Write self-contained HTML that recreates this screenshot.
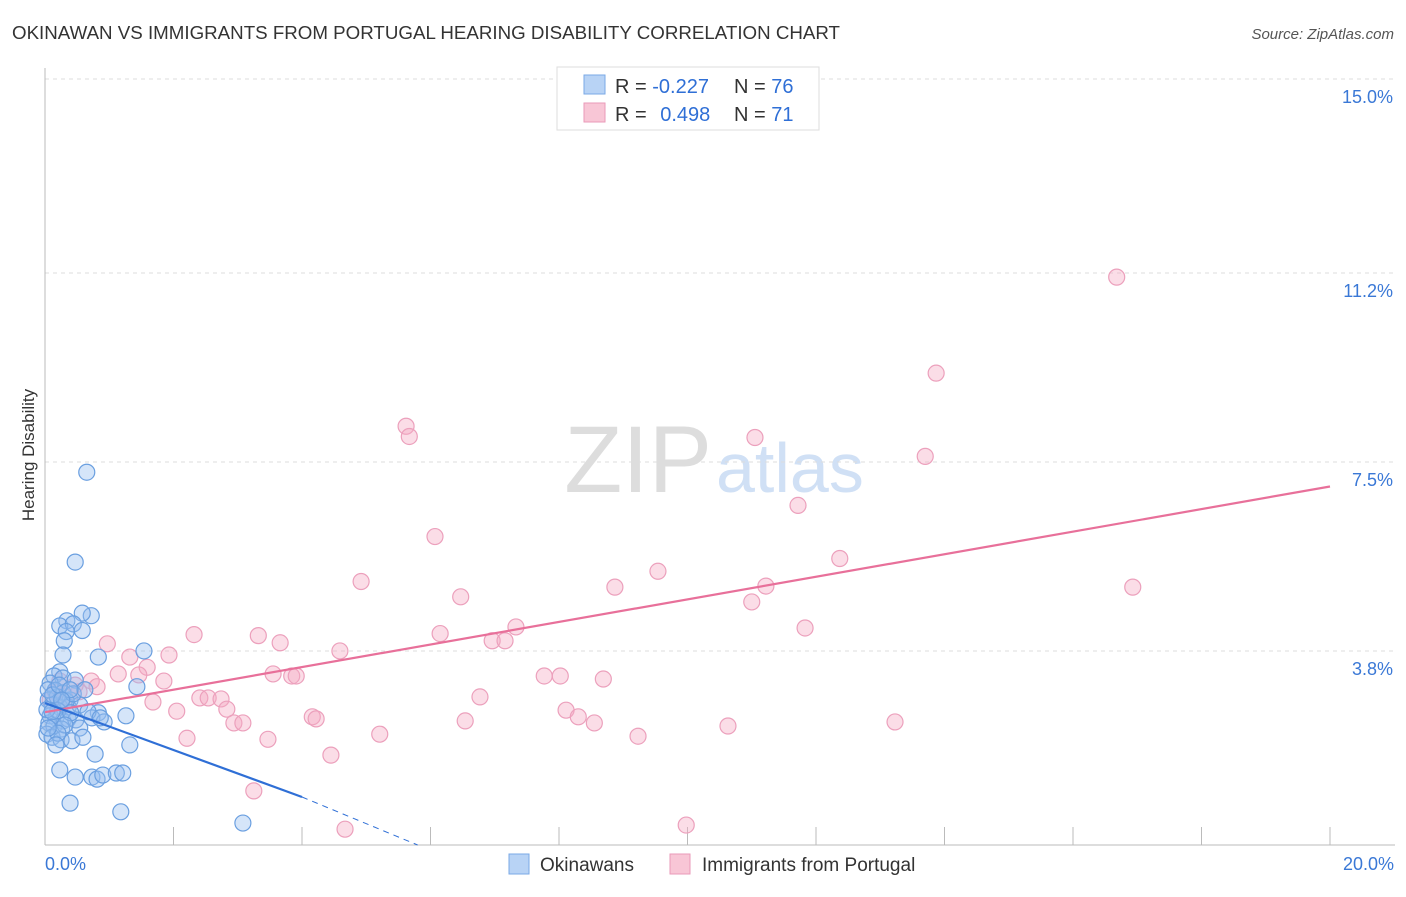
<!DOCTYPE html>
<html><head><meta charset="utf-8"><style>
body{margin:0;background:#fff;font-family:"Liberation Sans",sans-serif;}
svg text{font-family:"Liberation Sans",sans-serif;}
</style></head><body>
<svg width="1406" height="892" id="chart">
<text x="12" y="39" font-size="18" fill="#333" textLength="828" lengthAdjust="spacingAndGlyphs">OKINAWAN VS IMMIGRANTS FROM PORTUGAL HEARING DISABILITY CORRELATION CHART</text>
<text x="1394" y="39" font-size="15" fill="#555" text-anchor="end" font-style="italic">Source: ZipAtlas.com</text>
<text x="34" y="455" font-size="17" fill="#333" text-anchor="middle" transform="rotate(-90 34 455)">Hearing Disability</text>
<text x="712" y="492" font-size="95" fill="#ddd" text-anchor="end" font-family="Liberation Serif">ZIP</text>
<text x="716" y="492" font-size="70" fill="#d0e0f5">atlas</text>
<g id="grid"></g><g id="axes"></g><g id="pts"></g><g id="lines"></g>
<g>
<rect x="557" y="67" width="262" height="63" fill="#fff" stroke="#ddd"/>
<rect x="584" y="75" width="21" height="19" fill="#b8d3f5" stroke="#7aa8e6"/>
<rect x="584" y="103" width="21" height="19" fill="#f8c6d6" stroke="#ea9ab8"/>
<text x="615" y="93" font-size="20" fill="#333">R = <tspan fill="#2f6fd6">-0.227</tspan></text>
<text x="734" y="93" font-size="20" fill="#333">N = <tspan fill="#2f6fd6">76</tspan></text>
<text x="615" y="121" font-size="20" fill="#333">R = <tspan fill="#2f6fd6" dx="8">0.498</tspan></text>
<text x="734" y="121" font-size="20" fill="#333">N = <tspan fill="#2f6fd6">71</tspan></text>
</g>
<g>
<rect x="509" y="854" width="20" height="20" fill="#b8d3f5" stroke="#7aa8e6"/>
<text x="540" y="871" font-size="19" fill="#333">Okinawans</text>
<rect x="670" y="854" width="20" height="20" fill="#f8c6d6" stroke="#ea9ab8"/>
<text x="702" y="871" font-size="19" fill="#333">Immigrants from Portugal</text>
</g>
</svg>
<script>
const yTicks=[3.8,7.5,11.2,15.0];
const yTickLabels=["3.8%","7.5%","11.2%","15.0%"];
const xTickLabels=["0.0%","20.0%"];
const blueX=[0.65,0.47,0.72,0.58,0.34,0.23,0.44,0.33,0.58,0.3,0.28,0.83,1.54,0.23,0.14,0.28,0.47,1.43,0.08,0.16,0.28,0.39,0.05,0.11,0.23,0.36,0.54,0.83,1.26,0.73,0.92,0.08,0.17,0.28,0.36,0.48,0.06,0.14,0.54,0.26,0.03,0.11,0.25,0.42,0.59,1.32,0.78,0.23,0.47,0.73,0.81,0.9,1.11,1.21,0.39,1.18,3.08,0.19,0.33,0.44,0.2,0.4,0.62,0.05,0.12,0.22,0.03,0.11,0.67,0.31,0.86,0.2,0.05,0.39,0.26,0.17];
const blueY=[7.3,5.54,4.49,4.54,4.39,4.29,4.33,4.18,4.2,4.0,3.72,3.68,3.8,3.39,3.31,3.27,3.23,3.1,3.17,3.03,2.98,2.84,2.84,2.74,2.7,2.7,2.74,2.59,2.53,2.49,2.41,2.53,2.49,2.43,2.47,2.45,2.39,2.33,2.29,2.27,2.17,2.11,2.06,2.04,2.11,1.96,1.78,1.47,1.33,1.33,1.29,1.37,1.41,1.41,0.82,0.65,0.43,2.9,2.82,2.96,2.63,2.59,3.04,3.04,2.94,3.13,2.65,2.61,2.61,2.35,2.49,2.19,2.29,3.04,2.84,1.96];
const pinkX=[16.68,13.87,5.62,5.67,11.05,13.7,11.72,6.07,12.37,9.54,4.92,8.87,11.22,16.93,6.47,11.0,7.33,11.83,2.32,6.15,3.32,6.96,7.16,3.66,0.97,4.59,1.93,1.32,1.59,3.55,3.84,3.91,7.77,8.02,8.69,1.14,1.46,1.85,0.72,0.81,0.53,6.77,2.41,2.54,2.74,1.68,2.83,8.11,2.05,4.16,4.22,6.54,8.3,8.55,13.23,2.94,3.08,10.63,5.21,2.21,3.47,9.23,4.45,3.25,4.67,9.98,0.23,0.16,0.31,0.08,0.47];
const pinkY=[11.12,9.24,8.2,8.0,7.98,7.61,6.65,6.04,5.61,5.36,5.16,5.05,5.07,5.05,4.86,4.76,4.27,4.25,4.12,4.14,4.1,4.0,4.0,3.96,3.94,3.8,3.72,3.68,3.48,3.35,3.31,3.31,3.31,3.31,3.25,3.35,3.33,3.21,3.21,3.1,3.0,2.9,2.88,2.88,2.86,2.8,2.66,2.64,2.62,2.51,2.47,2.43,2.51,2.39,2.41,2.39,2.39,2.33,2.17,2.09,2.07,2.13,1.76,1.06,0.31,0.39,3.21,3.0,2.9,2.84,3.13];
const blueLine=[[0,2.78],[4,0.94]], blueDash=[[4,0.94],[5.8,0]];
const pinkLine=[[0,2.6],[20,7.02]];
const X0=45,X1=1330,Y0=845,Y1=79;
const sx=v=>X0+v/20*(X1-X0), sy=v=>Y0-v/15*(Y0-Y1);
const NS="http://www.w3.org/2000/svg";
function mk(t,a,p){const e=document.createElementNS(NS,t);for(const k in a)e.setAttribute(k,a[k]);p.appendChild(e);return e;}
const grid=document.getElementById('grid'),axes=document.getElementById('axes'),pts=document.getElementById('pts'),lines=document.getElementById('lines');
yTicks.forEach((t,i)=>{
 const l=mk('line',{x1:X0,x2:1395,y1:sy(t),y2:sy(t),stroke:'#ddd','stroke-dasharray':'4,4'},grid);
 
 
 const tx=mk('text',{x:1393,y:sy(t)+24,'font-size':18,fill:'#3a78d6','text-anchor':'end'},axes);
 tx.textContent=yTickLabels[i];
 
 
});
const ax=mk('line',{x1:X0,x2:1395,y1:Y0,y2:Y0,stroke:'#bbb'},axes);


const ay=mk('line',{x1:X0,x2:X0,y1:68,y2:Y0,stroke:'#bbb'},axes);


for(let i=0;i<=10;i++){
 const tk=mk('line',{x1:sx(i*2),x2:sx(i*2),y1:Y0,y2:Y0-18,stroke:'#bbb'},axes);
 
 
}
[[0,'start',45],[20,'end',1394]].forEach(([v,a,x],i)=>{
 const tx=mk('text',{x:x,y:870,'font-size':18,fill:'#3a78d6','text-anchor':a},axes);
 tx.textContent=xTickLabels[i];
 
 
});
pinkX.forEach((x,i)=>{
 const c=mk('circle',{cx:sx(x),cy:sy(pinkY[i]),r:8,fill:'rgba(244,170,196,0.4)',stroke:'#eca0bc','stroke-width':1.2},pts);
 
 
});
blueX.forEach((x,i)=>{
 const c=mk('circle',{cx:sx(x),cy:sy(blueY[i]),r:8,fill:'rgba(150,190,240,0.4)',stroke:'#6a9fe0','stroke-width':1.2},pts);
 
 
});
const pl=mk('line',{x1:sx(pinkLine[0][0]),y1:sy(pinkLine[0][1]),x2:sx(pinkLine[1][0]),y2:sy(pinkLine[1][1]),stroke:'#e8709a','stroke-width':2.2},lines);


const bl=mk('line',{x1:sx(blueLine[0][0]),y1:sy(blueLine[0][1]),x2:sx(blueLine[1][0]),y2:sy(blueLine[1][1]),stroke:'#2f6fd6','stroke-width':2.2},lines);


const bd=mk('line',{x1:sx(blueDash[0][0]),y1:sy(blueDash[0][1]),x2:sx(blueDash[1][0]),y2:sy(blueDash[1][1]),stroke:'#2f6fd6','stroke-width':1,'stroke-dasharray':'6,5'},lines);


</script>
</body></html>
